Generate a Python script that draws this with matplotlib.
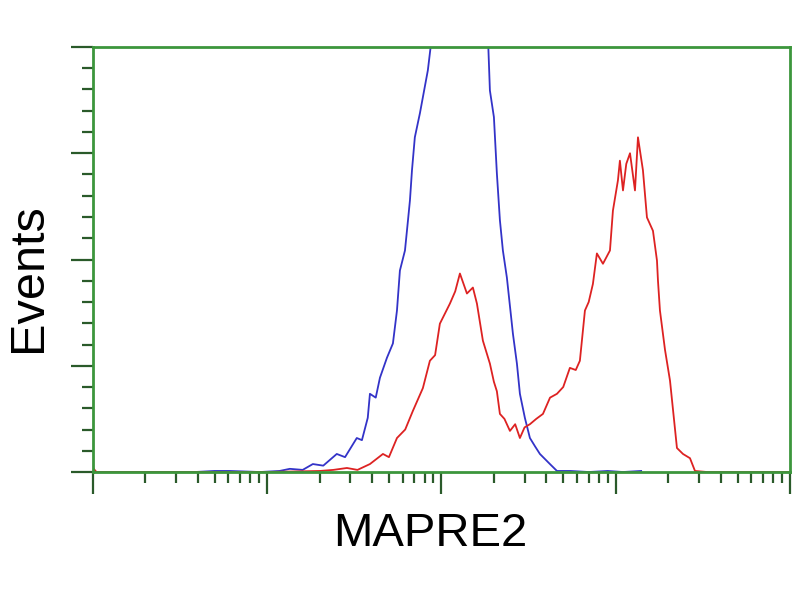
import matplotlib
matplotlib.use("Agg")
import matplotlib.pyplot as plt
from matplotlib.ticker import MultipleLocator, LogLocator, NullFormatter

# --- data (channel value, events) ---
blue_x = [1.0, 3.85, 5.0, 6.1, 9.1, 11.8, 13.5, 16.0, 18.3, 21.0, 25.1, 28.0, 32.7,
          35.0, 37.8, 38.9, 42.0, 44.4, 48.7, 52.7, 55.6, 57.8, 61.8, 64.3, 66.0,
          67.8, 70.4, 75.3, 83.6, 88.2, 100, 130, 160, 184.9, 189.8, 200.1, 208.1,
          216.6, 225.3, 237.5, 257.3, 271.2, 282.1, 301.2, 322.0, 345.0, 367.4,
          419.5, 460.2, 550, 700, 900, 1100, 1400]
blue_y = [0, 0, 1, 1, 0, 1, 3, 2, 7.5, 6, 17, 14, 32,
          30, 51, 73.6, 70, 88.7, 107.5, 121, 152, 189.6, 208.5, 236.8, 255.7,
          284, 315, 337.7, 378, 410, 460, 480, 470, 410, 359, 334, 281,
          237, 208.5, 183, 130, 102, 73.6, 51, 32, 24, 17,
          7.5, 1, 1, 0, 1, 0, 1]

red_x = [1.0, 1.05, 2.0, 10.0, 20.1, 24.0, 28.7, 33.0, 38.9, 46.2, 50.0, 55.6, 62.0,
         68.6, 78.3, 85.9, 92.0, 98.0, 111.9, 120.0, 127.7, 140.1, 151.6, 159.9,
         173.0, 189.8, 200.0, 208.1, 216.6, 230.0, 247.3, 265.0, 282.1, 300.0,
         322.0, 350.0, 382.5, 420.0, 460.2, 500.0, 546, 590, 623, 666, 700, 740,
         780, 845, 927, 964, 1030, 1057, 1101, 1150, 1208, 1290, 1342, 1433,
         1511, 1636, 1725, 1748, 1794, 1918, 2049, 2246, 2432, 2668, 2850, 3342,
         10000]
red_y = [4, 0, 0, 0, 1, 2, 3.8, 2, 7.5, 17, 14, 32, 40,
         57.5, 79, 104.7, 110, 139.6, 158.5, 170, 186.8, 168, 173.6, 158.5,
         123.6, 102, 85, 76, 54.7, 50, 38.7, 45, 32, 42,
         45, 50, 54.7, 70, 73.6, 80, 98, 96, 104.7, 152, 160, 177,
         205.7, 196, 208.5, 246, 274.5, 293, 265, 290, 300, 265, 315, 284,
         239.6, 227, 199, 180, 152, 115, 86, 22.6, 17, 13, 1, 0,
         0]

frame_green = "#3c963c"
tick_color = "#2a5a2a"

fig = plt.figure(figsize=(8, 6), dpi=100)
ax = fig.add_axes([0.116, 0.2133, 0.8715, 0.7084])

ax.plot(blue_x, blue_y, color="#3333c8", linewidth=1.3)
ax.plot(red_x, red_y, color="#dd2222", linewidth=1.3)

ax.set_xscale("log")
ax.set_xlim(1, 10000)
ax.set_ylim(0, 400)

for side in ["left", "right", "top", "bottom"]:
    ax.spines[side].set_color(frame_green)
    ax.spines[side].set_linewidth(2.0)

ax.yaxis.set_major_locator(MultipleLocator(100))
ax.yaxis.set_minor_locator(MultipleLocator(20))
ax.xaxis.set_major_locator(LogLocator(base=10, numticks=10))
ax.xaxis.set_minor_locator(LogLocator(base=10, subs=range(2, 10), numticks=20))
ax.xaxis.set_major_formatter(NullFormatter())
ax.xaxis.set_minor_formatter(NullFormatter())
ax.yaxis.set_major_formatter(NullFormatter())

ax.tick_params(axis="both", which="major", direction="out", length=16, width=1.6,
               color=tick_color)
ax.tick_params(axis="both", which="minor", direction="out", length=8, width=1.6,
               color=tick_color)

fig.text(0.036, 0.538, "Events", rotation=90, ha="center", va="center",
         fontsize=35, family=["Liberation Sans", "DejaVu Sans"])
fig.text(0.5375, 0.11, "MAPRE2", ha="center", va="center",
         fontsize=34, family=["Liberation Sans", "DejaVu Sans"])

fig.savefig("out.png", dpi=100)
